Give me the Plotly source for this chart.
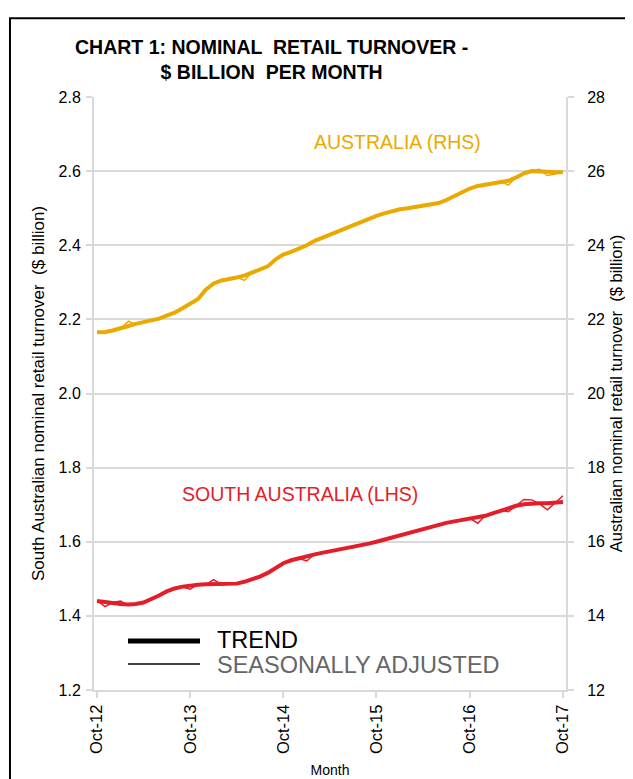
import plotly.graph_objects as go
import pandas as pd

months = pd.date_range("2012-10-01", "2017-10-01", freq="MS")

aus_trend = [21.65, 21.66, 21.70, 21.75, 21.82, 21.88, 21.93, 21.97, 22.02, 22.10,
             22.18, 22.30, 22.42, 22.55, 22.80, 22.97, 23.05, 23.10, 23.13, 23.18,
             23.26, 23.35, 23.43, 23.62, 23.75, 23.82, 23.90, 24.00, 24.12, 24.20,
             24.27, 24.36, 24.45, 24.53, 24.62, 24.70, 24.79, 24.86, 24.92, 24.97,
             25.00, 25.03, 25.06, 25.09, 25.14, 25.22, 25.33, 25.45, 25.53, 25.60,
             25.64, 25.67, 25.70, 25.74, 25.83, 25.94, 26.00, 26.00, 25.98, 25.97,
             25.97]
aus_sa = [21.66, 21.62, 21.71, 21.74, 21.95, 21.86, 21.93, 21.98, 22.01, 22.11,
          22.17, 22.31, 22.41, 22.56, 22.79, 22.98, 23.04, 23.11, 23.14, 23.05,
          23.27, 23.34, 23.44, 23.60, 23.76, 23.81, 23.91, 23.99, 24.13, 24.19,
          24.28, 24.35, 24.46, 24.52, 24.63, 24.69, 24.80, 24.85, 24.93, 24.96,
          25.01, 25.02, 25.07, 25.08, 25.15, 25.21, 25.34, 25.44, 25.54, 25.59,
          25.65, 25.66, 25.71, 25.62, 25.84, 25.93, 26.02, 26.05, 25.88, 25.92,
          26.00]

sa_trend = [1.440, 1.437, 1.434, 1.432, 1.431, 1.432, 1.436, 1.444, 1.455, 1.466,
            1.474, 1.479, 1.482, 1.484, 1.485, 1.485, 1.485, 1.485, 1.487, 1.492,
            1.498, 1.506, 1.516, 1.530, 1.542, 1.550, 1.556, 1.561, 1.566, 1.570,
            1.574, 1.578, 1.581, 1.585, 1.590, 1.595, 1.600, 1.606, 1.612, 1.618,
            1.624, 1.629, 1.634, 1.639, 1.645, 1.651, 1.655, 1.659, 1.662, 1.665,
            1.670, 1.677, 1.684, 1.691, 1.697, 1.701, 1.703, 1.704, 1.704, 1.705,
            1.707]
sa_sa = [1.442, 1.425, 1.436, 1.440, 1.428, 1.433, 1.437, 1.443, 1.457, 1.465,
         1.476, 1.478, 1.472, 1.486, 1.484, 1.498, 1.484, 1.486, 1.486, 1.493,
         1.497, 1.507, 1.515, 1.531, 1.541, 1.552, 1.555, 1.548, 1.567, 1.569,
         1.575, 1.577, 1.582, 1.584, 1.591, 1.594, 1.601, 1.605, 1.613, 1.617,
         1.625, 1.628, 1.635, 1.638, 1.646, 1.650, 1.656, 1.658, 1.663, 1.650,
         1.671, 1.676, 1.685, 1.681, 1.698, 1.714, 1.713, 1.703, 1.686, 1.704,
         1.724]

left_ticks = [1.2, 1.4, 1.6, 1.8, 2.0, 2.2, 2.4, 2.6, 2.8]
right_ticks = [12, 14, 16, 18, 20, 22, 24, 26, 28]
x_ticks = pd.to_datetime(["2012-10-01", "2013-10-01", "2014-10-01",
                          "2015-10-01", "2016-10-01", "2017-10-01"])
x_tick_labels = ["Oct-12", "Oct-13", "Oct-14", "Oct-15", "Oct-16", "Oct-17"]

GOLD = "#EBA900"
RED = "#E31E2A"
GRID = "#D9D9D9"
FONT = "Liberation Sans, Arial, sans-serif"

fig = go.Figure()
fig.add_trace(go.Scatter(x=months, y=aus_sa, mode="lines", yaxis="y2",
                         line=dict(color=GOLD, width=1.5), showlegend=False))
fig.add_trace(go.Scatter(x=months, y=aus_trend, mode="lines", yaxis="y2",
                         line=dict(color=GOLD, width=4), showlegend=False))
fig.add_trace(go.Scatter(x=months, y=sa_sa, mode="lines",
                         line=dict(color=RED, width=1.5), showlegend=False))
fig.add_trace(go.Scatter(x=months, y=sa_trend, mode="lines",
                         line=dict(color=RED, width=4), showlegend=False))

fig.update_layout(
    width=633, height=779,
    margin=dict(l=86, r=75, t=89, b=97),
    paper_bgcolor="white", plot_bgcolor="white",
    font=dict(family=FONT, color="black", size=15),
    showlegend=False,
    xaxis=dict(
        type="date", range=["2012-09-19", "2017-10-13"],
        tickvals=x_ticks, ticktext=x_tick_labels, tickangle=-90,
        showgrid=False, showline=True, linecolor=GRID, linewidth=2,
        ticks="outside", ticklen=6, tickwidth=2, tickcolor=GRID,
        tickfont=dict(size=16.5),
        title=dict(text="Month", font=dict(size=14), standoff=12),
    ),
    yaxis=dict(
        range=[1.2, 2.8], tickvals=left_ticks, tickformat=".1f",
        showgrid=True, gridcolor=GRID, gridwidth=2,
        showline=True, linecolor=GRID, linewidth=2,
        ticks="outside", ticklen=6, tickwidth=2, tickcolor=GRID,
        tickfont=dict(size=16), zeroline=False, ticklabelstandoff=2,
        title=dict(text="South Australian nominal retail turnover  ($ billion)",
                   font=dict(size=17), standoff=10),
    ),
    yaxis2=dict(
        range=[12, 28], tickvals=right_ticks, overlaying="y", side="right",
        showgrid=False, showline=True, linecolor=GRID, linewidth=2,
        ticks="outside", ticklen=6, tickwidth=2, tickcolor=GRID,
        tickfont=dict(size=16), zeroline=False, ticklabelstandoff=10,
        title=dict(text="Australian nominal retail turnover  ($ billion)",
                   font=dict(size=16.5), standoff=6),
    ),
    annotations=[
        dict(text="<b>CHART 1: NOMINAL  RETAIL TURNOVER -<br>$ BILLION  PER MONTH</b>",
             xref="paper", yref="paper", x=0.377, y=1.064, xanchor="center",
             yanchor="middle", showarrow=False,
             font=dict(family=FONT, size=19.5, color="black")),
        dict(text="AUSTRALIA (RHS)", xref="paper", yref="paper", x=0.642, y=0.924,
             xanchor="center", yanchor="middle", showarrow=False,
             font=dict(size=19.5, color=GOLD)),
        dict(text="SOUTH AUSTRALIA (LHS)", xref="paper", yref="paper", x=0.437, y=0.331,
             xanchor="center", yanchor="middle", showarrow=False,
             font=dict(size=19.5, color=RED)),
        dict(text="TREND", xref="paper", yref="paper", x=0.2555, y=0.0835,
             xanchor="left", yanchor="middle", showarrow=False,
             font=dict(size=23.5, color="black")),
        dict(text="SEASONALLY ADJUSTED", xref="paper", yref="paper", x=0.2555, y=0.043,
             xanchor="left", yanchor="middle", showarrow=False,
             font=dict(size=23.5, color="#666666")),
    ],
    shapes=[
        dict(type="rect", xref="paper", yref="paper", x0=-0.178, x1=1.2,
             y0=-0.2, y1=1.133, line=dict(color="black", width=2),
             fillcolor="rgba(0,0,0,0)", layer="below"),
        dict(type="line", xref="paper", yref="paper", x0=0.072, x1=0.2246,
             y0=0.0826, y1=0.0826, line=dict(color="black", width=5)),
        dict(type="line", xref="paper", yref="paper", x0=0.072, x1=0.2246,
             y0=0.0438, y1=0.0438, line=dict(color="black", width=1.5)),
    ],
)

fig.write_html("out.html")
